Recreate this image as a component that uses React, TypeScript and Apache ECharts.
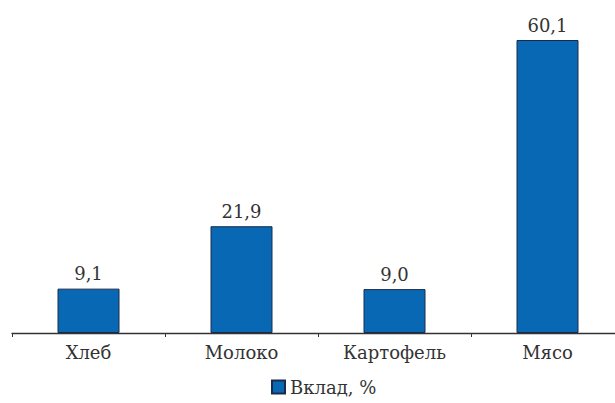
import React, { useEffect, useRef } from "react";
import * as echarts from "echarts";

const categories = ["Хлеб", "Молоко", "Картофель", "Мясо"];
const values = [9.1, 21.9, 9.0, 60.1];
const seriesName = "Вклад, %";

export default function App() {
  const ref = useRef<HTMLDivElement>(null);
  useEffect(() => {
    const chart = echarts.init(ref.current!, null, { renderer: "svg" });
    const font = "'DejaVu Serif', 'Liberation Serif', serif";
    chart.setOption({
      animation: false,
      backgroundColor: "#ffffff",
      grid: { left: 12, width: 612, top: 40, bottom: 70 },
      legend: {
        bottom: 2,
        left: 266,
        itemWidth: 13,
        itemHeight: 13,
        itemGap: 6,
        icon: "rect",
        textStyle: { fontFamily: font, fontSize: 18, color: "#333333" },
        data: [seriesName],
      },
      xAxis: {
        type: "category",
        data: categories,
        axisLine: { lineStyle: { color: "#333333", width: 1.3 } },
        axisTick: { show: true, length: 4, lineStyle: { color: "#333333" } },
        axisLabel: { fontFamily: font, fontSize: 18, color: "#333333", margin: 10 },
      },
      yAxis: {
        type: "value",
        min: 0,
        max: 60.1,
        show: false,
        splitLine: { show: false },
      },
      series: [
        {
          name: seriesName,
          type: "bar",
          data: values,
          barWidth: 62,
          itemStyle: { color: "#0868b4", borderColor: "#1c2a4a", borderWidth: 1 },
          label: {
            show: true,
            position: "top",
            distance: 6,
            fontFamily: font,
            fontSize: 18,
            color: "#333333",
            formatter: (p: any) => Number(p.value).toFixed(1).replace(".", ","),
          },
        },
      ],
    });
    return () => chart.dispose();
  }, []);
  return (
    <div
      style={{
        position: "fixed",
        left: 0,
        top: 0,
        width: 615,
        height: 403,
        overflow: "hidden",
        background: "#ffffff",
      }}
    >
      <div ref={ref} style={{ width: 640, height: 403 }} />
    </div>
  );
}
